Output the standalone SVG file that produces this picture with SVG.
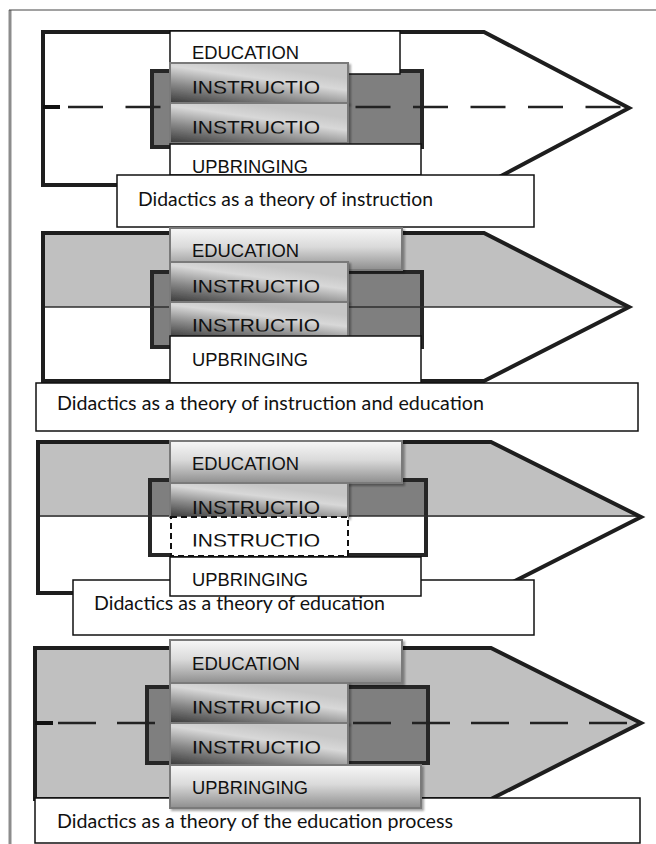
<svg xmlns="http://www.w3.org/2000/svg" width="656" height="844" viewBox="0 0 656 844">
<style>
.arrow{stroke:#1e1e1e;stroke-width:4;stroke-linejoin:miter;}
.inner{stroke:#262626;stroke-width:4;}
.mid{stroke:#2e2e2e;stroke-width:1.5;}
.dash{stroke:#222;stroke-width:2.5;fill:none;}
.lbl{font-family:"Liberation Sans",Arial,sans-serif;font-size:18.5px;fill:#111;}
.cap{font-family:Lato,"Liberation Sans",sans-serif;font-size:18.5px;fill:#111;}
.wbox{fill:#fff;stroke:#111;stroke-width:1.5;}
.gbox{stroke:#7a7a7a;stroke-width:2;}
.dbox{fill:#fff;stroke:#111;stroke-width:2;stroke-dasharray:6 4;}
</style>
<defs>
<linearGradient id="gInstr" x1="0" y1="1" x2="0.55" y2="0.1">
<stop offset="0" stop-color="#3a3a3a"/>
<stop offset="0.4" stop-color="#8a8a8a"/>
<stop offset="0.75" stop-color="#d8d8d8"/>
<stop offset="1" stop-color="#c6c6c6"/>
</linearGradient>
<linearGradient id="gEdu" x1="0" y1="0" x2="0" y2="1">
<stop offset="0" stop-color="#f7f7f7"/>
<stop offset="0.45" stop-color="#dadada"/>
<stop offset="1" stop-color="#8e8e8e"/>
</linearGradient>
<clipPath id="cut" clipPathUnits="objectBoundingBox"><rect x="-0.1" y="0" width="1.2" height="0.78"/></clipPath>
<filter id="sh" x="-10%" y="-20%" width="130%" height="150%">
<feDropShadow dx="2" dy="2" stdDeviation="1.2" flood-color="#000" flood-opacity="0.35"/>
</filter>
</defs>

<g id="frame">
<line x1="10" y1="10" x2="10" y2="844" stroke="#8c8c8c" stroke-width="3"/>
<line x1="9" y1="10" x2="656" y2="10" stroke="#444" stroke-width="1"/>
</g>

<!-- Panel 1 -->
<g id="panel1">
<polygon class="arrow" fill="#fff" points="43,32 484,32 629,108 484,185 43,185"/>
<rect class="inner" x="152" y="71" width="270" height="76" fill="#7f7f7f"/>
<g id="connectors1">
<line x1="43" y1="107" x2="60" y2="107" stroke="#111" stroke-width="4"/>
<line class="dash" x1="68" y1="107" x2="627" y2="107" stroke-dasharray="35 22.5"/>
</g>
<g id="p1-education"><rect class="wbox" x="170" y="31" width="230" height="43"/><text class="lbl" x="192" y="59" textLength="107" lengthAdjust="spacingAndGlyphs">EDUCATION</text></g>
<g id="p1-instr1"><rect class="gbox" x="170" y="63" width="178" height="40" fill="url(#gInstr)" filter="url(#sh)"/><text class="lbl" x="192" y="94" textLength="128" lengthAdjust="spacingAndGlyphs" clip-path="url(#cut)">INSTRUCTIO</text></g>
<g id="p1-instr2"><rect class="gbox" x="170" y="103" width="178" height="40" fill="url(#gInstr)" filter="url(#sh)"/><text class="lbl" x="192" y="134" textLength="128" lengthAdjust="spacingAndGlyphs" clip-path="url(#cut)">INSTRUCTIO</text></g>
<g id="p1-upbringing"><rect class="wbox" x="170" y="144" width="251" height="31"/><text class="lbl" x="192" y="173" textLength="116" lengthAdjust="spacingAndGlyphs">UPBRINGING</text></g>
<g id="p1-caption"><rect class="wbox" x="117" y="175" width="417" height="52"/><text class="cap" x="138" y="206" textLength="295" lengthAdjust="spacingAndGlyphs">Didactics as a theory of instruction</text></g>
</g>

<!-- Panel 2 -->
<g id="panel2">
<polygon fill="#fff" points="43,233 484,233 629,307 484,381 43,381"/>
<polygon fill="#c0c0c0" points="43,233 484,233 629,307 43,307"/>
<rect class="inner" x="152" y="272" width="270" height="75" fill="#7f7f7f"/>
<line class="mid" x1="43" y1="307" x2="629" y2="307"/>
<polygon class="arrow" fill="none" points="43,233 484,233 629,307 484,381 43,381"/>
<g id="p2-education"><rect class="gbox" x="170" y="228" width="232" height="42" fill="url(#gEdu)" filter="url(#sh)"/><text class="lbl" x="192" y="257" textLength="107" lengthAdjust="spacingAndGlyphs">EDUCATION</text></g>
<g id="p2-instr1"><rect class="gbox" x="170" y="262" width="178" height="40" fill="url(#gInstr)" filter="url(#sh)"/><text class="lbl" x="192" y="293" textLength="128" lengthAdjust="spacingAndGlyphs" clip-path="url(#cut)">INSTRUCTIO</text></g>
<g id="p2-instr2"><rect class="gbox" x="170" y="302" width="178" height="36" fill="url(#gInstr)" filter="url(#sh)"/><text class="lbl" x="192" y="332" textLength="128" lengthAdjust="spacingAndGlyphs" clip-path="url(#cut)">INSTRUCTIO</text></g>
<g id="p2-upbringing"><rect class="wbox" x="170" y="336" width="251" height="47"/><text class="lbl" x="192" y="366" textLength="116" lengthAdjust="spacingAndGlyphs">UPBRINGING</text></g>
<g id="p2-caption"><rect class="wbox" x="36" y="383" width="602" height="48"/><text class="cap" x="57" y="410" textLength="427" lengthAdjust="spacingAndGlyphs">Didactics as a theory of instruction and education</text></g>
</g>

<!-- Panel 3 -->
<g id="panel3">
<polygon fill="#fff" points="38,442 491,442 641,517 491,593 38,593"/>
<polygon fill="#c0c0c0" points="38,442 491,442 641,517 38,517"/>
<rect x="150" y="480" width="276" height="75" fill="#fff"/>
<rect x="150" y="480" width="276" height="36" fill="#7f7f7f"/>
<rect class="inner" x="150" y="480" width="276" height="75" fill="none"/>
<line class="mid" x1="38" y1="516" x2="641" y2="516"/>
<polygon class="arrow" fill="none" points="38,442 491,442 641,517 491,593 38,593"/>
<g id="p3-education"><rect class="gbox" x="170" y="441" width="232" height="42" fill="url(#gEdu)" filter="url(#sh)"/><text class="lbl" x="192" y="470" textLength="107" lengthAdjust="spacingAndGlyphs">EDUCATION</text></g>
<g id="p3-instr1"><rect class="gbox" x="170" y="483" width="178" height="34" fill="url(#gInstr)" filter="url(#sh)"/><text class="lbl" x="192" y="514" textLength="128" lengthAdjust="spacingAndGlyphs">INSTRUCTIO</text></g>
<g id="p3-instr2"><rect class="dbox" x="171" y="517" width="177" height="39"/><text class="lbl" x="192" y="547" textLength="128" lengthAdjust="spacingAndGlyphs" clip-path="url(#cut)">INSTRUCTIO</text></g>
<g id="p3-caption"><rect class="wbox" x="73" y="580" width="461" height="55"/><text class="cap" x="94" y="610" textLength="291" lengthAdjust="spacingAndGlyphs">Didactics as a theory of education</text></g>
<g id="p3-upbringing"><rect class="wbox" x="170" y="557" width="251" height="39"/><text class="lbl" x="192" y="586" textLength="116" lengthAdjust="spacingAndGlyphs">UPBRINGING</text></g>
</g>

<!-- Panel 4 -->
<g id="panel4">
<polygon class="arrow" fill="#c0c0c0" points="35,648 491,648 641,723 491,799 35,799"/>
<rect class="inner" x="147" y="687" width="281" height="76" fill="#7f7f7f"/>
<g id="connectors4">
<line x1="35" y1="723" x2="53" y2="723" stroke="#111" stroke-width="4"/>
<line class="dash" x1="58" y1="723" x2="639" y2="723" stroke-dasharray="38 21"/>
</g>
<g id="p4-education"><rect class="gbox" x="170" y="640" width="232" height="43" fill="url(#gEdu)" filter="url(#sh)"/><text class="lbl" x="192" y="670" textLength="108" lengthAdjust="spacingAndGlyphs">EDUCATION</text></g>
<g id="p4-instr1"><rect class="gbox" x="170" y="683" width="178" height="40" fill="url(#gInstr)" filter="url(#sh)"/><text class="lbl" x="192" y="714" textLength="129" lengthAdjust="spacingAndGlyphs" clip-path="url(#cut)">INSTRUCTIO</text></g>
<g id="p4-instr2"><rect class="gbox" x="170" y="723" width="178" height="42" fill="url(#gInstr)" filter="url(#sh)"/><text class="lbl" x="192" y="754" textLength="129" lengthAdjust="spacingAndGlyphs" clip-path="url(#cut)">INSTRUCTIO</text></g>
<g id="p4-caption"><rect class="wbox" x="35" y="798" width="605" height="45"/><text class="cap" x="57" y="828" textLength="396" lengthAdjust="spacingAndGlyphs">Didactics as a theory of the education process</text></g>
<g id="p4-upbringing"><rect class="gbox" x="170" y="765" width="251" height="43" fill="url(#gEdu)" filter="url(#sh)"/><text class="lbl" x="192" y="794" textLength="116" lengthAdjust="spacingAndGlyphs">UPBRINGING</text></g>
</g>
</svg>
